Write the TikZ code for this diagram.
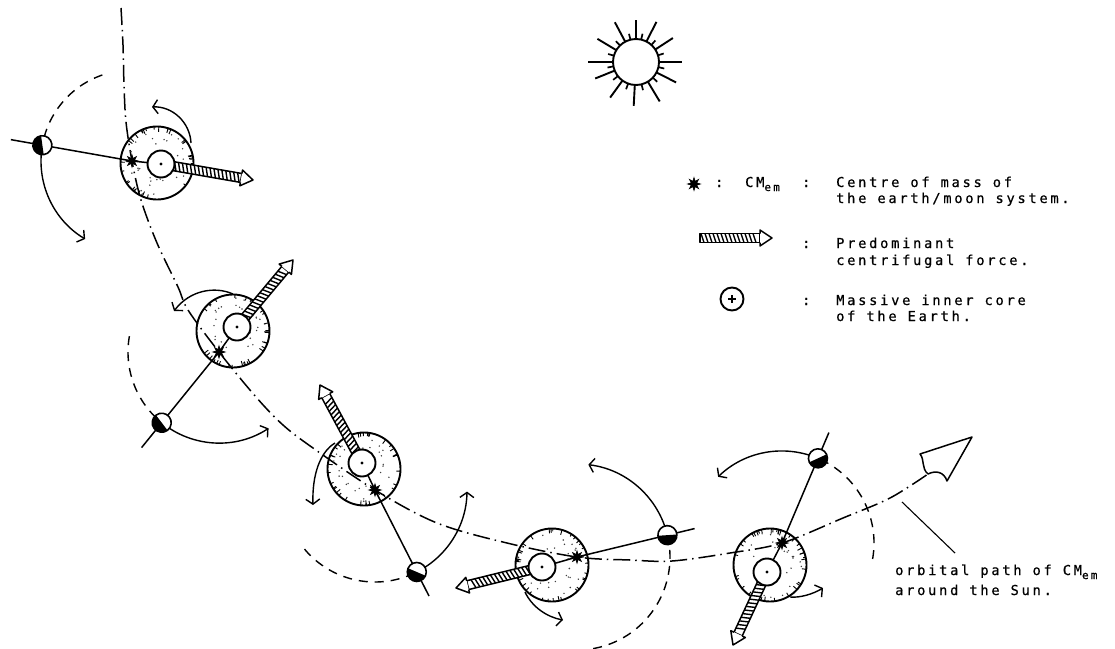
\documentclass[tikz,border=0pt]{standalone}
\usepackage{fontspec}
\usetikzlibrary{arrows.meta,shapes.geometric,calc}
\newfontfamily\plotfont[LetterSpace=20,FakeBold=0.6]{DejaVu Sans Mono}

\tikzset{
  orbitline/.style={line width=1.5pt, dash pattern=on 17pt off 5pt on 1.5pt off 5pt},
  moondash/.style={line width=1.4pt, dash pattern=on 9pt off 7pt},
  rotarr/.style={line width=1.4pt, -{Straight Barb[length=5pt,width=14pt,line width=1.4pt]}},
  armline/.style={line width=1.5pt},
  earthline/.style={line width=1.9pt},
  coreline/.style={line width=1.9pt, fill=white},
  forcebar/.style={line width=1.5pt, fill=white, line join=round},
  hatch/.style={line width=1.4pt},
  sunray/.style={line width=1.9pt},
  cmstar/.style={star, star points=8, star point ratio=2.2, fill=black, draw=black,
                 line width=0.6pt, inner sep=0pt, minimum size=12.5pt},
  txt/.style={font=\plotfont\fontsize{13.7}{16}\selectfont, inner sep=0pt, anchor=base west},
}

\makeatletter
% hatched force arrow drawn from the tail point #1 to the tip point #2
\newcommand\forcearrow[2]{%
  \pgfmathanglebetweenpoints{\pgfpointanchor{#1}{center}}{\pgfpointanchor{#2}{center}}%
  \let\fa@ang\pgfmathresult
  \pgfpointdiff{\pgfpointanchor{#1}{center}}{\pgfpointanchor{#2}{center}}%
  \pgfmathveclen{\pgf@x}{\pgf@y}%
  \let\fa@len\pgfmathresult
  \pgfmathsetmacro\fa@bar{\fa@len-12}%
  \pgfmathsetmacro\fa@lim{\fa@len-16}%
  \begin{scope}[shift={(#1)},rotate=\fa@ang]
    \draw[forcebar] (0,-4.5) rectangle (\fa@bar,4.5);
    \foreach \s in {1,5,...,\fa@lim} {\draw[hatch] (\s,-4.5) -- ++(3,9);}
    \draw[forcebar] (\fa@bar,-4.5) -- (\fa@bar,-8) -- (\fa@len,0) -- (\fa@bar,8) -- (\fa@bar,4.5);
  \end{scope}}
% moon with its dark half turned away from the sun
\newcommand\moon[1]{%
  \pgfmathanglebetweenpoints{\pgfpointanchor{sun}{center}}{\pgfpointanchor{#1}{center}}%
  \let\mn@ang\pgfmathresult
  \begin{scope}[shift={(#1)},rotate=\mn@ang]
    \fill[white] (0,0) circle (9.5);
    \fill (0,9.5) arc[start angle=90,end angle=-90,radius=9.5] -- cycle;
    \draw[line width=1.6pt] (0,0) circle (9.5);
  \end{scope}}
\makeatother

% stippled earth disc with a rough inner rim
\newcommand\earth[1]{%
  \draw[earthline] (#1) circle (36.5);
  \foreach \i in {1,...,34}{%
    \pgfmathsetmacro\ta{360*rnd}\pgfmathsetmacro\tl{31+3*rnd}%
    \draw[line width=0.9pt] ($(#1)+(\ta:36)$) -- ($(#1)+(\ta:\tl)$);}
  \foreach \i in {1,...,30}{%
    \pgfmathsetmacro\da{360*rnd}\pgfmathsetmacro\dr{16+17*rnd}%
    \fill[black!75] ($(#1)+(\da:\dr)$) circle (0.8);}
}
% massive inner core
\newcommand\core[1]{%
  \draw[coreline] (#1) circle (13.5);
  \fill (#1) circle (1.7);
}

\begin{document}
\begin{tikzpicture}[x=1pt,y=-1pt]
\pgfmathsetseed{4711}
\useasboundingbox (0,0) rectangle (1115,648);
\fill[white] (0,0) rectangle (1115,648);

% ---------- the Sun ----------
\coordinate (sun) at (636,62);
\draw[sunray] (sun) circle (23);
\foreach \a/\l in {0/46,27/45,59/46,93/44,126/44,158/44,180/48,211/45,242/45,270/42,297/45,327/44}
  {\draw[sunray] ($(sun)+(\a:23)$) -- ($(sun)+(\a:\l)$);}
\foreach \a in {13,43,76,110,142,169,196,226,256,283,312,343}
  {\draw[line width=1.7pt] ($(sun)+(\a:23)$) -- ($(sun)+(\a:29)$);}

% ---------- centres of mass, earths, cores ----------
\coordinate (CM1) at (132,161);  \coordinate (E1) at (157,163);  \coordinate (C1) at (161,164);
\coordinate (CM2) at (219,352);  \coordinate (E2) at (233,331);  \coordinate (C2) at (237,327);
\coordinate (CM3) at (375,490);  \coordinate (E3) at (364,469);  \coordinate (C3) at (362,463);
\coordinate (CM4) at (577,557);  \coordinate (E4) at (552,565);  \coordinate (C4) at (542,567);
\coordinate (CM5) at (782,543);  \coordinate (E5) at (770,565);  \coordinate (C5) at (767,572);

% moons on their orbits round the centre of mass, and the outer ends of the arms
\coordinate (M1) at ($(CM1)+(190:91)$);  \coordinate (L1) at ($(CM1)+(190:123)$);
\coordinate (M2) at ($(CM2)+(129:91)$);  \coordinate (L2) at ($(CM2)+(129:123)$);
\coordinate (M3) at ($(CM3)+(63:92)$);   \coordinate (L3) at ($(CM3)+(63:119)$);
\coordinate (M4) at ($(CM4)+(-13.6:93)$); \coordinate (L4) at ($(CM4)+(-13.6:121)$);
\coordinate (M5) at ($(CM5)+(-67:92)$);  \coordinate (L5) at ($(CM5)+(-67:120)$);

% ---------- orbital path of the centre of mass ----------
\coordinate (N) at (928,474);
\coordinate (T) at (972,437);
\coordinate (W1) at (920,454);
\coordinate (W2) at (947,481);
\draw[orbitline] plot[smooth, tension=0.55] coordinates {
  (121,8) (123,45) (124,85) (126,122) (CM1) (141,200) (157,243) (178,287) (188,310)
  (CM2) (256,397) (283,425) (313,448) (CM3) (437,523) (507,543) (CM4) (630,560)
  (672,561) (730,553) (CM5) (843,518) (890,498) (N)};
\draw[line width=1.5pt, line join=round]
  (N) .. controls (921,468) and (925,460) .. (W1) -- (T) -- (W2)
      .. controls (944,472) and (936,470) .. (N);
\coordinate (lead1) at (902,502);
\coordinate (lead2) at (955,553);
\draw[line width=1.1pt] (lead1) -- (lead2);

% ---------- moon orbits: path behind (dashed) and ahead (arrow) ----------
\draw[moondash] (CM1) ++(251:91) arc[start angle=251, end angle=190, radius=91];
\draw[rotarr]   (CM1) ++(190:91) arc[start angle=190, end angle=121, radius=91];
\draw[moondash] (CM2) ++(190:91) arc[start angle=190, end angle=129, radius=91];
\draw[rotarr]   (CM2) ++(129:91) arc[start angle=129, end angle=57, radius=91];
\draw[moondash] (CM3) ++(140:92) arc[start angle=140, end angle=63, radius=92];
\draw[rotarr]   (CM3) ++(63:92) arc[start angle=63, end angle=1, radius=92];
\draw[moondash] (CM4) ++(80:93) arc[start angle=80, end angle=-13.6, radius=93];
\draw[rotarr]   (CM4) ++(-13.6:93) arc[start angle=-13.6, end angle=-83, radius=93];
\draw[moondash] (CM5) ++(10:92) arc[start angle=10, end angle=-67, radius=92];
\draw[rotarr]   (CM5) ++(-67:92) arc[start angle=-67, end angle=-134, radius=92];

% ---------- earths ----------
\earth{E1}
\earth{E2}
\earth{E3}
\earth{E4}
\earth{E5}

% ---------- moon - centre of mass - core arms ----------
\foreach \k in {1,...,5}
  {\draw[armline] (L\k) -- (M\k) -- (CM\k) -- (C\k);}

% ---------- predominant centrifugal force ----------
\coordinate (F1) at (253,180);
\coordinate (F2) at (293,260);
\coordinate (F3) at (320,385);
\coordinate (F4) at (456,588);
\coordinate (F5) at (733,645);
\foreach \k in {1,...,5}{\forcearrow{C\k}{F\k}}

% ---------- cores, centres of mass, moons ----------
\foreach \k in {1,...,5}{\core{C\k}}
\foreach \k in {1,...,5}{\node[cmstar] (star\k) at (CM\k) {};}
\foreach \k in {1,...,5}{\moon{M\k}}

% ---------- rotation of the earth ----------
\draw[rotarr] (191,143) .. controls (190,122) and (172,106) .. (152,107);
\draw[rotarr] (233,294) .. controls (215,286) and (190,290) .. (174,311);
\draw[rotarr] (335,443) .. controls (320,452) and (312,475) .. (313,505);
\draw[rotarr] (525,592) .. controls (532,607) and (547,617) .. (563,620);
\draw[rotarr] (790,597) .. controls (800,598) and (813,594) .. (823,588);

% ---------- key ----------
\node[cmstar, minimum size=13pt] (keystar) at (694,184) {};
\node[txt] (keyc1) at (715,187) {:};
\node[txt] (keycm) at (745,187) {CM\raisebox{-4pt}{\fontsize{11}{11}\selectfont em}};
\node[txt] (keyc2) at (802,187) {:};
\node[txt] (key1a) at (836,187) {Centre of mass of};
\node[txt] (key1b) at (836,203) {the earth/moon system.};

\coordinate (kft) at (700,238);
\coordinate (kfh) at (772,238);
\forcearrow{kft}{kfh}
\node[txt] (keyc3) at (802,248) {:};
\node[txt] (key2a) at (836,248) {Predominant};
\node[txt] (key2b) at (836,265) {centrifugal force.};

\coordinate (kcore) at (732,299);
\draw[line width=1.9pt] (kcore) circle (11.5);
\draw[line width=1.4pt] ($(kcore)+(-4,0)$) -- ($(kcore)+(4,0)$)
                        ($(kcore)+(0,-4)$) -- ($(kcore)+(0,4)$);
\node[txt] (keyc4) at (802,305) {:};
\node[txt] (key3a) at (836,305) {Massive inner core};
\node[txt] (key3b) at (836,321) {of the Earth.};

% ---------- orbit label ----------
\node[txt] (orb1) at (895,575) {orbital path of CM\raisebox{-4pt}{\fontsize{11}{11}\selectfont em}};
\node[txt] (orb2) at (895,595) {around the Sun.};
\end{tikzpicture}
\end{document}
